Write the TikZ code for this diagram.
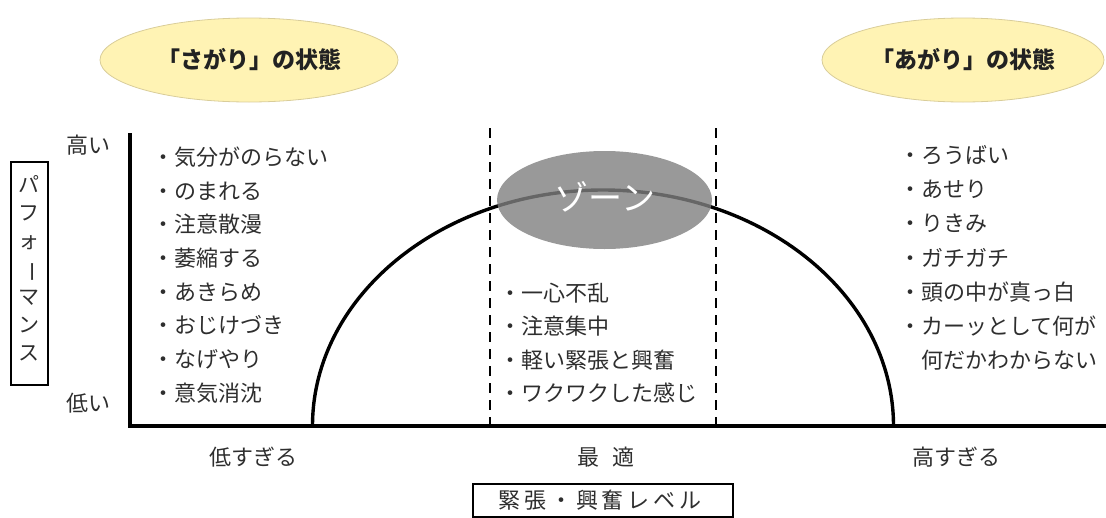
\documentclass[tikz,border=0pt]{standalone}
\usepackage{fontspec}
\usepackage{graphicx}
\usetikzlibrary{shapes.geometric}
\setmainfont{Noto Sans CJK JP}
\newfontfamily\jp{Noto Sans CJK JP}
\newfontfamily\jpls[LetterSpace=18]{Noto Sans CJK JP}
\definecolor{textgray}{HTML}{2E2E2E}
\definecolor{titlegray}{HTML}{222222}
\definecolor{bubblefill}{HTML}{FFF3B4}
\definecolor{bubbleedge}{HTML}{D9CD9A}
\definecolor{zonefill}{HTML}{808080}
\begin{document}
\begin{tikzpicture}[x=1pt,y=-1pt,
  txt/.style={font=\jp\fontsize{22pt}{26pt}\selectfont, text=textgray, inner sep=0pt},
  item/.style={txt, anchor=base west},
  titletxt/.style={ellipse, fill=bubblefill, draw=bubbleedge, line width=0.8pt,
     font=\jp\bfseries\fontsize{23pt}{27pt}\selectfont, text=titlegray, inner sep=0pt},
  axisline/.style={line width=3.8pt, line join=miter},
  guide/.style={line width=1.6pt, dash pattern=on 10pt off 7pt},
  curve/.style={line width=3.4pt},
  zonestyle/.style={ellipse, fill=zonefill, fill opacity=0.8, text opacity=1, inner sep=0pt},
  labelbox/.style={draw=black, line width=1.5pt, inner sep=0pt}
]
\useasboundingbox (0,0) rectangle (1106,517);

% title bubbles
\node[titletxt, minimum width=298pt, minimum height=84pt] (sagari) at (249,60) {「さがり」の状態};
\node[titletxt, minimum width=282pt, minimum height=84pt] (agari) at (963,60) {「あがり」の状態};

% axes
\coordinate (ytop) at (130,133);
\coordinate (O) at (130,426);
\coordinate (xend) at (1108,426);
\draw[axisline] (ytop) -- (O) -- (xend);

% y labels
\node[txt] (high) at (88,145) {高い};
\node[txt] (low) at (88,403) {低い};

% performance box
\node[labelbox, minimum width=37pt, minimum height=223pt] (perf) at (29.5,273.5) {};
\node[font=\jp\fontsize{21pt}{28pt}\selectfont, text=textgray, align=center, inner sep=0pt]
  (perftext) at (29.5,268.5) {パ\\フ\\ォ\\\rotatebox[origin=c]{-90}{ー}\\マ\\ン\\ス};

% dashed guides
\coordinate (d1t) at (490,128); \coordinate (d1b) at (490,426);
\coordinate (d2t) at (716,128); \coordinate (d2b) at (716,426);
\draw[guide] (d1t) -- (d1b);
\draw[guide] (d2t) -- (d2b);

% performance curve
\coordinate (cl) at (312.5,426);
\draw[curve] (cl) arc[start angle=180, end angle=0, x radius=290.5pt, y radius=236pt];

% zone
\node[zonestyle, minimum width=215pt, minimum height=98pt] (zone) at (604.5,200) {};
\node[font=\jp\fontsize{34pt}{38pt}\selectfont, text=white, inner sep=0pt] (zonetext) at (605,197) {ゾーン};

% left list
\foreach \t [count=\i from 0] in {気分がのらない,のまれる,注意散漫,萎縮する,あきらめ,おじけづき,なげやり,意気消沈}
  \node[item] (L\i) at (152,{157+33.7*\i+8.4}) {・\t};

% middle list
\foreach \t [count=\i from 0] in {一心不乱,注意集中,軽い緊張と興奮,ワクワクした感じ}
  \node[item] (M\i) at (499,{293+33.4*\i+8.4}) {・\t};

% right list
\foreach \t [count=\i from 0] in {ろうばい,あせり,りきみ,ガチガチ,頭の中が真っ白,カーッとして何が}
  \node[item] (R\i) at (899,{155+34.2*\i+8.4}) {・\t};
\node[item] (R6) at (921,{360+8.4}) {何だかわからない};

% x labels
\node[txt] (xlow) at (253,457) {低すぎる};
\node[txt] (xopt) at (606,457) {最\hspace{14pt}適};
\node[txt] (xhigh) at (956,457) {高すぎる};

% x axis title
\node[labelbox, minimum width=260pt, minimum height=33pt] (xtitle) at (603,500.5) {};
\node[txt, font=\jpls\fontsize{22pt}{26pt}\selectfont] (xtitletext) at (600,500) {緊張・興奮レベル};
\end{tikzpicture}
\end{document}
